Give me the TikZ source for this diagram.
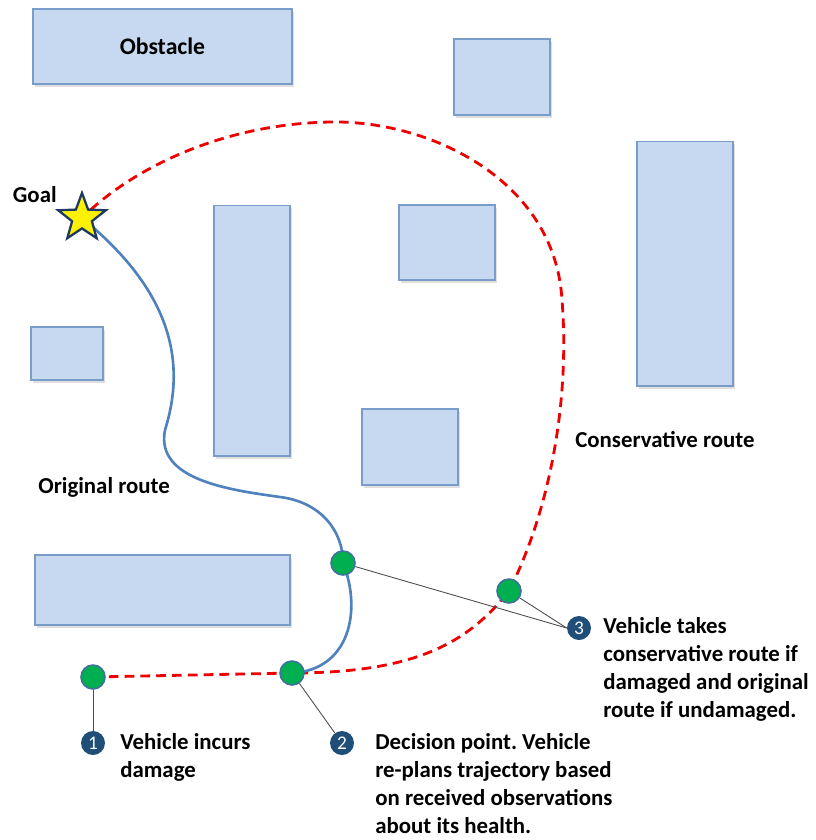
\documentclass[tikz,border=0pt]{standalone}
\usepackage{fontspec}
\setmainfont{Carlito}
\usetikzlibrary{shapes.geometric,shadows}
\definecolor{boxfill}{HTML}{C6D9F1}
\definecolor{boxline}{HTML}{7A9CC8}
\definecolor{dotgreen}{HTML}{00B050}
\definecolor{dotline}{HTML}{41719C}
\definecolor{navy}{HTML}{1F4E79}
\definecolor{routeblue}{HTML}{4F81BD}
\definecolor{routered}{HTML}{EE0000}
\definecolor{starline}{HTML}{1F3864}
\frenchspacing
\begin{document}
\begin{tikzpicture}[x=0.02cm,y=-0.02cm,
		obstacle/.style={draw=boxline, fill=boxfill, line width=0.6pt, rectangle, inner sep=0pt,
			drop shadow={shadow xshift=1pt, shadow yshift=-1.5pt, opacity=0.25}, font=\bfseries\fontsize{13.5}{15}\selectfont},
		goalstar/.style={star, star points=5, star point ratio=2.4, draw=starline, fill=yellow, line width=1.3pt,
			minimum size=1.0cm, inner sep=0pt},
		stop/.style={draw=dotline, fill=dotgreen, circle, line width=0.9pt, minimum size=0.48cm, inner sep=0pt},
		badge/.style={fill=navy, circle, minimum size=0.48cm, inner sep=0pt, text=white, font=\fontsize{11}{12}\selectfont},
		label/.style={anchor=west, inner sep=0pt, font=\bfseries\fontsize{13}{15}\selectfont},
		note/.style={anchor=north west, align=left, inner sep=0pt, font=\bfseries\fontsize{13}{16}\selectfont},
		original/.style={draw=routeblue, line width=1.5pt},
		conservative/.style={draw=routered, line width=1.6pt, dash pattern=on 5.5pt off 3.5pt},
		leader/.style={draw=black!70, line width=0.5pt}]
		\useasboundingbox (0,0) rectangle (816,840);
		% Obstacles
		\node[obstacle, minimum width=5.18cm, minimum height=1.5cm] (obsA) at (162.5,46.5) {Obstacle};
		\node[obstacle, minimum width=1.92cm, minimum height=1.52cm] (obsB) at (502,77) {};
		\node[obstacle, minimum width=1.92cm, minimum height=4.9cm] (obsC) at (685,263.5) {};
		\node[obstacle, minimum width=1.52cm, minimum height=5.02cm] (obsD) at (252,330.5) {};
		\node[obstacle, minimum width=1.92cm, minimum height=1.5cm] (obsE) at (447,242.5) {};
		\node[obstacle, minimum width=1.44cm, minimum height=1.06cm] (obsF) at (67,353.5) {};
		\node[obstacle, minimum width=1.92cm, minimum height=1.52cm] (obsG) at (410,447) {};
		\node[obstacle, minimum width=5.1cm, minimum height=1.4cm] (obsH) at (162.5,590) {};
		% Route points
		\coordinate (goalc) at (82,218);
		\coordinate (d1c) at (93,677);
		\coordinate (d2c) at (292,673);
		\coordinate (d3c) at (343,563);
		\coordinate (d4c) at (509,591);
		% Routes
		\draw[conservative] (d1c) -- (d2c) .. controls (420,673) and (470,640) .. (d4c)
			.. controls (550,510) and (570,400) .. (562,300)
			.. controls (555,180) and (430,120) .. (330,122)
			.. controls (220,124) and (130,170) .. (goalc);
		\draw[original] (goalc) .. controls (170,290) and (187,360) .. (165,430)
			.. controls (155,480) and (230,490) .. (280,497)
			.. controls (320,502) and (343,530) .. (d3c)
			.. controls (362,610) and (350,670) .. (d2c);
		% Goal
		\node[goalstar] (goal) at (goalc) {};
		\node[anchor=east, inner sep=0pt, font=\bfseries\fontsize{13}{15}\selectfont] (goallabel) at (57,195) {Goal};
		\node[label] (origlabel) at (38,487) {Original route};
		\node[label] (conslabel) at (575,440) {Conservative route};
		% Stops and badges
		\node[stop] (d1) at (d1c) {};
		\node[stop] (d2) at (d2c) {};
		\node[stop] (d3) at (d3c) {};
		\node[stop] (d4) at (d4c) {};
		\node[badge] (n1) at (93,743) {1};
		\node[badge] (n2) at (342,743) {2};
		\node[badge] (n3) at (579,628) {3};
		% Leaders
		\draw[leader] (d1) -- (n1);
		\draw[leader] (d2) -- (n2);
		\draw[leader] (d3) -- (n3.west);
		\draw[leader] (d4) -- (n3.west);
		% Notes
		\node[note] (t1) at (120,733) {Vehicle incurs\\damage};
		\node[note] (t2) at (375,733) {Decision point. Vehicle\\re-plans trajectory based\\on received observations\\about its health.};
		\node[note] (t3) at (603,617) {Vehicle takes\\conservative route if\\damaged and original\\route if undamaged.};
	\end{tikzpicture}
\end{document}
